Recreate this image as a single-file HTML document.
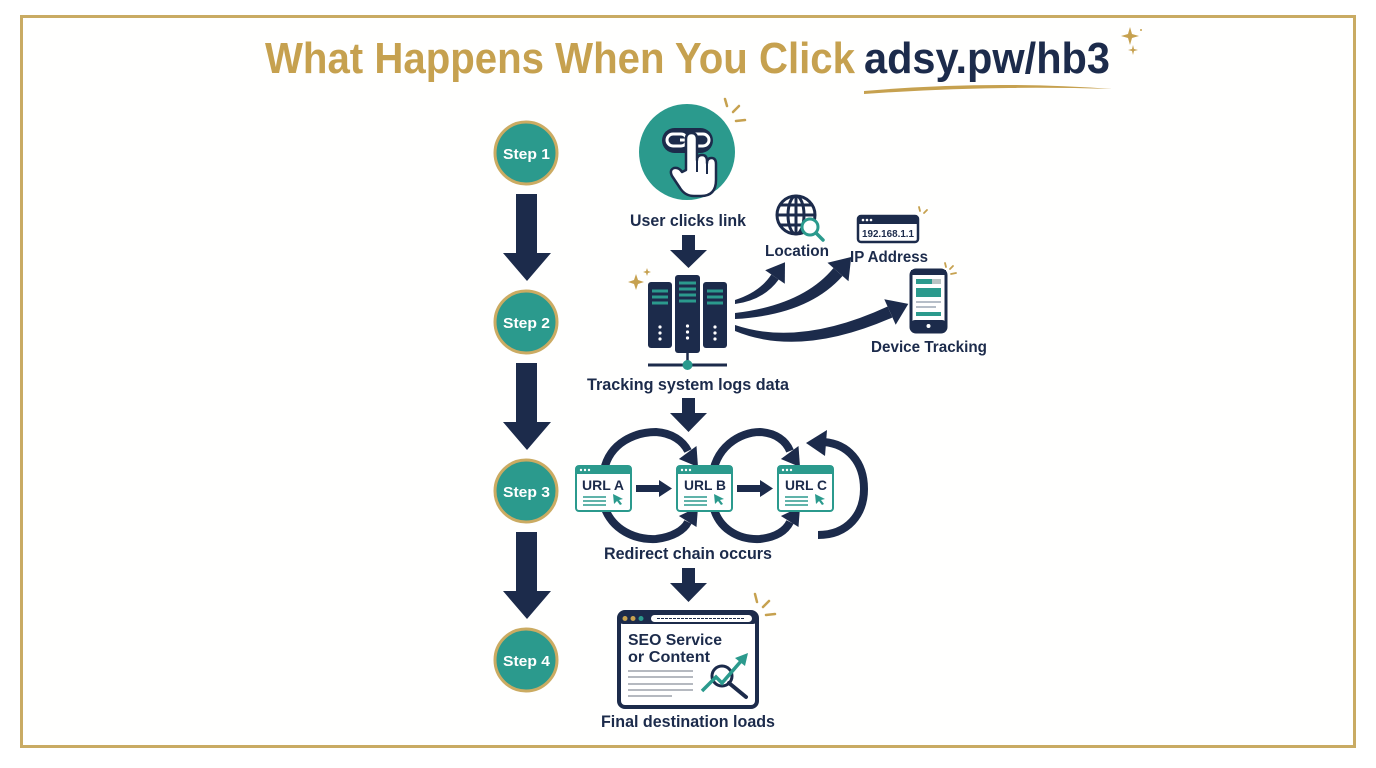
<!DOCTYPE html>
<html><head><meta charset="utf-8"><style>
html,body{margin:0;padding:0;background:#fff;}
svg{display:block;}
text{font-family:"Liberation Sans",sans-serif;font-weight:bold;}
</style></head><body>
<svg width="1376" height="768" viewBox="0 0 1376 768" xmlns="http://www.w3.org/2000/svg">
<rect x="0" y="0" width="1376" height="768" fill="#ffffff"/>
<rect x="21.5" y="16.5" width="1333" height="730" fill="#fffffe" stroke="#c9ab63" stroke-width="3"/>

<!-- Title -->
<text x="265" y="73" font-size="44" fill="#c6a14f" textLength="590" lengthAdjust="spacingAndGlyphs">What Happens When You Click</text>
<text x="864" y="73" font-size="44" fill="#1c2b4b" textLength="246" lengthAdjust="spacingAndGlyphs">adsy.pw/hb3</text>
<path d="M864,91 Q990,80 1112,89 Q990,85 864,94 Z" fill="#c6a14f"/>
<path d="M1130,27 L1132,34 L1139,36 L1132,38 L1130,45 L1128,38 L1121,36 L1128,34 Z" fill="#c6a14f"/>
<path d="M1133,45 L1134,49 L1138,50 L1134,51 L1133,55 L1132,51 L1128,50 L1132,49 Z" fill="#c6a14f"/>
<circle cx="1141" cy="30" r="1" fill="#c6a14f"/>

<!-- Step circles -->
<g>
<circle cx="526" cy="153" r="31" fill="#2b9a8d" stroke="#cbab62" stroke-width="3"/>
<text x="503" y="159" font-size="15" fill="#fff" textLength="47" lengthAdjust="spacingAndGlyphs">Step 1</text>
<circle cx="526" cy="322" r="31" fill="#2b9a8d" stroke="#cbab62" stroke-width="3"/>
<text x="503" y="328" font-size="15" fill="#fff" textLength="47" lengthAdjust="spacingAndGlyphs">Step 2</text>
<circle cx="526" cy="491" r="31" fill="#2b9a8d" stroke="#cbab62" stroke-width="3"/>
<text x="503" y="497" font-size="15" fill="#fff" textLength="47" lengthAdjust="spacingAndGlyphs">Step 3</text>
<circle cx="526" cy="660" r="31" fill="#2b9a8d" stroke="#cbab62" stroke-width="3"/>
<text x="503" y="666" font-size="15" fill="#fff" textLength="47" lengthAdjust="spacingAndGlyphs">Step 4</text>
</g>
<!-- step arrows -->
<g fill="#1c2b4b">
<path d="M516,194 H537 V253 H551 L527,281 L503,253 H516 Z"/>
<path d="M516,363 H537 V422 H551 L527,450 L503,422 H516 Z"/>
<path d="M516,532 H537 V591 H551 L527,619 L503,591 H516 Z"/>
</g>

<!-- User click icon -->
<circle cx="687" cy="152" r="48" fill="#2b9a8d"/>
<rect x="662" y="128" width="51" height="25" rx="12.5" fill="#1c2b4b"/>
<rect x="667" y="134" width="20" height="12" rx="6" fill="none" stroke="#fff" stroke-width="3"/>
<rect x="689" y="134" width="20" height="12" rx="6" fill="none" stroke="#fff" stroke-width="3"/>
<line x1="680" y1="140" x2="696" y2="140" stroke="#fff" stroke-width="3"/>
<path d="M686,170 L686,139 Q686,133 691.5,133 Q697,133 697,139 L697,160 Q697,155 702,155 Q707,155 707,161 L707,163 Q707,158 711.5,158 Q716,158 716,164 L716,180 Q716,196 701,196 L694,196 Q685,196 680,188 L672,176 Q669,170 674,168 Q679,167 682,172 Z" fill="#fff" stroke="#1c2b4b" stroke-width="2.5" stroke-linejoin="round"/>
<line x1="697" y1="160" x2="697" y2="172" stroke="#1c2b4b" stroke-width="2"/>
<line x1="707" y1="163" x2="707" y2="174" stroke="#1c2b4b" stroke-width="2"/>
<g stroke="#c6a14f" stroke-width="2.5" stroke-linecap="round">
<line x1="725" y1="99" x2="727" y2="106"/>
<line x1="733" y1="112" x2="739" y2="106"/>
<line x1="736" y1="121" x2="745" y2="120"/>
</g>
<text x="630" y="226" font-size="16.5" fill="#1c2b4b" textLength="116" lengthAdjust="spacingAndGlyphs">User clicks link</text>

<!-- small down arrows -->
<g fill="#1c2b4b">
<path d="M682,235 H695 V250 H707 L688.5,268 L670,250 H682 Z"/>
<path d="M682,398 H695 V413 H707 L688.5,432 L670,413 H682 Z"/>
<path d="M682,568 H695 V583 H707 L688.5,602 L670,583 H682 Z"/>
</g>

<!-- Server -->
<g>
<rect x="648" y="282" width="24" height="66" rx="3" fill="#1c2b4b"/>
<rect x="675" y="275" width="25" height="78" rx="3" fill="#1c2b4b"/>
<rect x="703" y="282" width="24" height="66" rx="3" fill="#1c2b4b"/>
<g stroke="#2b9a8d" stroke-width="3">
<line x1="652" y1="291" x2="668" y2="291"/><line x1="652" y1="297" x2="668" y2="297"/><line x1="652" y1="303" x2="668" y2="303"/>
<line x1="679" y1="283" x2="696" y2="283"/><line x1="679" y1="289" x2="696" y2="289"/><line x1="679" y1="295" x2="696" y2="295"/><line x1="679" y1="301" x2="696" y2="301"/>
<line x1="707" y1="291" x2="723" y2="291"/><line x1="707" y1="297" x2="723" y2="297"/><line x1="707" y1="303" x2="723" y2="303"/>
</g>
<g fill="#fff">
<circle cx="660" cy="327" r="1.6"/><circle cx="660" cy="333" r="1.6"/><circle cx="660" cy="339" r="1.6"/>
<circle cx="687.5" cy="326" r="1.6"/><circle cx="687.5" cy="332" r="1.6"/><circle cx="687.5" cy="338" r="1.6"/>
<circle cx="715" cy="327" r="1.6"/><circle cx="715" cy="333" r="1.6"/><circle cx="715" cy="339" r="1.6"/>
</g>
<line x1="687.5" y1="353" x2="687.5" y2="365" stroke="#1c2b4b" stroke-width="2.5"/>
<line x1="648" y1="365" x2="727" y2="365" stroke="#1c2b4b" stroke-width="3"/>
<circle cx="687.5" cy="365" r="5" fill="#2b9a8d"/>
<path d="M636,274 L638,280 L644,282 L638,284 L636,290 L634,284 L628,282 L634,280 Z" fill="#c6a14f"/>
<path d="M647,268 L648,271 L651,272 L648,273 L647,276 L646,273 L643,272 L646,271 Z" fill="#c6a14f"/>
</g>
<text x="587" y="390" font-size="16.5" fill="#1c2b4b" textLength="202" lengthAdjust="spacingAndGlyphs">Tracking system logs data</text>

<!-- Swoosh arrows -->
<g fill="#1c2b4b">
<path d="M735,300 Q760,292 771.3,274.5 L778.7,279.5 Q764,300 735,304 Z"/>
<polygon points="765.2,270.3 785,262.2 784.8,283.7"/>
<path d="M735,313 Q803,305 833.5,268 L842.5,276 Q808,315 735,319 Z"/>
<polygon points="827.5,262.8 851.2,257 848.5,281.2"/>
<path d="M735,325 Q800,347 887.6,306.5 L892.4,317.5 Q800,358 735,331 Z"/>
<polygon points="884.3,299.2 908.3,303.9 895.7,324.8"/>
</g>

<!-- Globe -->
<g fill="none" stroke="#1c2b4b" stroke-width="3">
<circle cx="796" cy="215" r="19"/>
<ellipse cx="796" cy="215" rx="8" ry="19"/>
<line x1="796" y1="196" x2="796" y2="234"/>
<line x1="777" y1="215" x2="815" y2="215"/>
<path d="M780,205 H812 M780,225 H812"/>
</g>
<circle cx="810" cy="227" r="8" fill="#fff" stroke="#2b9a8d" stroke-width="3"/>
<line x1="816" y1="233" x2="823" y2="240" stroke="#2b9a8d" stroke-width="3.5" stroke-linecap="round"/>
<text x="765" y="256" font-size="15.5" fill="#1c2b4b" textLength="64" lengthAdjust="spacingAndGlyphs">Location</text>

<!-- IP box -->
<rect x="858" y="216" width="60" height="26" rx="3" fill="#fff" stroke="#1c2b4b" stroke-width="2.5"/>
<rect x="858" y="216" width="60" height="8" fill="#1c2b4b"/>
<circle cx="863" cy="220" r="1.3" fill="#fff"/><circle cx="867" cy="220" r="1.3" fill="#fff"/><circle cx="871" cy="220" r="1.3" fill="#fff"/>
<text x="862" y="237" font-size="10" fill="#1c2b4b" textLength="52" lengthAdjust="spacingAndGlyphs">192.168.1.1</text>
<g stroke="#c6a14f" stroke-width="1.8" stroke-linecap="round">
<line x1="919" y1="207" x2="920" y2="211"/><line x1="924" y1="213" x2="927" y2="210"/>
<line x1="945" y1="263" x2="946" y2="267"/><line x1="950" y1="269" x2="953" y2="266"/><line x1="951" y1="274" x2="956" y2="273"/>
</g>
<text x="850" y="262" font-size="15.5" fill="#1c2b4b" textLength="78" lengthAdjust="spacingAndGlyphs">IP Address</text>

<!-- Phone -->
<rect x="911" y="270" width="35" height="62" rx="5" fill="#fff" stroke="#1c2b4b" stroke-width="3"/>
<rect x="911" y="270" width="35" height="5" fill="#1c2b4b"/>
<rect x="911" y="320" width="35" height="12" rx="4" fill="#1c2b4b"/>
<circle cx="928.5" cy="326" r="2" fill="#fff"/>
<rect x="916" y="279" width="25" height="5" fill="#2b9a8d"/>
<rect x="932" y="279" width="9" height="5" fill="#b9c4c4"/>
<rect x="916" y="288" width="25" height="9" fill="#2b9a8d"/>
<line x1="916" y1="302" x2="941" y2="302" stroke="#8a97a6" stroke-width="1.3"/>
<line x1="916" y1="307" x2="936" y2="307" stroke="#8a97a6" stroke-width="1.3"/>
<rect x="916" y="312" width="25" height="4" fill="#2b9a8d"/>
<text x="871" y="352" font-size="15.5" fill="#1c2b4b" textLength="116" lengthAdjust="spacingAndGlyphs">Device Tracking</text>

<!-- Redirect loops -->
<g fill="none" stroke="#1c2b4b" stroke-width="8" stroke-linecap="butt">
<path d="M604,470 C610,442 636,432 656,432 C672,433 683,441 688,451"/>
<path d="M604,506 C612,530 635,540 656,539 C673,537 684,530 688,522"/>
<path d="M712,480 C714,447 740,432 760,432 C776,433 786,441 790,451"/>
<path d="M712,500 C716,530 740,540 760,539 C777,537 786,530 790,522"/>
<path d="M818,535 C848,535 864,514 864,489 C864,462 848,444 824,442"/>
</g>
<g fill="#1c2b4b">
<polygon points="696.5,446 698,467 678.9,459"/>
<polygon points="696.5,527 698,507 678.9,516"/>
<polygon points="798.5,446 800,467 780.9,459"/>
<polygon points="798.5,527 800,507 780.9,516"/>
<polygon points="806,443 827,430 825,456"/>
</g>
<!-- URL boxes -->
<g>
<rect x="576" y="466" width="55" height="45" rx="3" fill="#fff" stroke="#2b9a8d" stroke-width="2"/>
<rect x="576" y="466" width="55" height="8" fill="#2b9a8d"/>
<circle cx="581" cy="470" r="1.2" fill="#fff"/><circle cx="585" cy="470" r="1.2" fill="#fff"/><circle cx="589" cy="470" r="1.2" fill="#fff"/>
<text x="582" y="490" font-size="14" fill="#1c2b4b" textLength="42" lengthAdjust="spacingAndGlyphs">URL A</text>
<g stroke="#2b9a8d" stroke-width="1.5"><line x1="583" y1="497" x2="606" y2="497"/><line x1="583" y1="501" x2="606" y2="501"/><line x1="583" y1="505" x2="606" y2="505"/></g>
<path d="M613,494 L623,499 L619,500 L622,504 L620,505 L617,501 L614,504 Z" fill="#2b9a8d"/>

<rect x="677" y="466" width="55" height="45" rx="3" fill="#fff" stroke="#2b9a8d" stroke-width="2"/>
<rect x="677" y="466" width="55" height="8" fill="#2b9a8d"/>
<circle cx="682" cy="470" r="1.2" fill="#fff"/><circle cx="686" cy="470" r="1.2" fill="#fff"/><circle cx="690" cy="470" r="1.2" fill="#fff"/>
<text x="684" y="490" font-size="14" fill="#1c2b4b" textLength="42" lengthAdjust="spacingAndGlyphs">URL B</text>
<g stroke="#2b9a8d" stroke-width="1.5"><line x1="684" y1="497" x2="707" y2="497"/><line x1="684" y1="501" x2="707" y2="501"/><line x1="684" y1="505" x2="707" y2="505"/></g>
<path d="M714,494 L724,499 L720,500 L723,504 L721,505 L718,501 L715,504 Z" fill="#2b9a8d"/>

<rect x="778" y="466" width="55" height="45" rx="3" fill="#fff" stroke="#2b9a8d" stroke-width="2"/>
<rect x="778" y="466" width="55" height="8" fill="#2b9a8d"/>
<circle cx="783" cy="470" r="1.2" fill="#fff"/><circle cx="787" cy="470" r="1.2" fill="#fff"/><circle cx="791" cy="470" r="1.2" fill="#fff"/>
<text x="785" y="490" font-size="14" fill="#1c2b4b" textLength="42" lengthAdjust="spacingAndGlyphs">URL C</text>
<g stroke="#2b9a8d" stroke-width="1.5"><line x1="785" y1="497" x2="808" y2="497"/><line x1="785" y1="501" x2="808" y2="501"/><line x1="785" y1="505" x2="808" y2="505"/></g>
<path d="M815,494 L825,499 L821,500 L824,504 L822,505 L819,501 L816,504 Z" fill="#2b9a8d"/>
</g>
<g fill="#1c2b4b">
<path d="M636,485 H659 V480 L672,488.5 L659,497 V492 H636 Z"/>
<path d="M737,485 H760 V480 L773,488.5 L760,497 V492 H737 Z"/>
</g>
<text x="604" y="559" font-size="16.5" fill="#1c2b4b" textLength="168" lengthAdjust="spacingAndGlyphs">Redirect chain occurs</text>

<!-- Final destination browser -->
<rect x="619" y="612" width="138" height="95" rx="6" fill="#fff" stroke="#1c2b4b" stroke-width="4"/>
<rect x="619" y="612" width="138" height="12" rx="4" fill="#1c2b4b"/>
<circle cx="625" cy="618.5" r="2.5" fill="#c6a14f"/><circle cx="633" cy="618.5" r="2.5" fill="#c6a14f"/><circle cx="641" cy="618.5" r="2.5" fill="#2b9a8d"/>
<rect x="651" y="615" width="101" height="7" rx="3.5" fill="#fff"/>
<line x1="657" y1="618.5" x2="745" y2="618.5" stroke="#1c2b4b" stroke-width="1" stroke-dasharray="3,1"/>
<text x="628" y="645" font-size="16" fill="#1c2b4b" textLength="94" lengthAdjust="spacingAndGlyphs">SEO Service</text>
<text x="628" y="662" font-size="16" fill="#1c2b4b" textLength="82" lengthAdjust="spacingAndGlyphs">or Content</text>
<g stroke="#b5b9c0" stroke-width="2">
<line x1="628" y1="671" x2="693" y2="671"/><line x1="628" y1="677" x2="693" y2="677"/><line x1="628" y1="684" x2="693" y2="684"/><line x1="628" y1="690" x2="693" y2="690"/><line x1="628" y1="696" x2="672" y2="696"/>
</g>
<circle cx="722" cy="676" r="10" fill="#fff" stroke="#1c2b4b" stroke-width="3"/>
<line x1="729" y1="683" x2="746" y2="697" stroke="#1c2b4b" stroke-width="4" stroke-linecap="round"/>
<path d="M702,691 L716,677 L722,683 L742,660" fill="none" stroke="#2b9a8d" stroke-width="3.5"/>
<polygon points="748,653 745,666 735,658" fill="#2b9a8d"/>
<g stroke="#c6a14f" stroke-width="2.5" stroke-linecap="round">
<line x1="755" y1="594" x2="757" y2="602"/><line x1="763" y1="607" x2="769" y2="601"/><line x1="766" y1="615" x2="775" y2="614"/>
</g>
<text x="601" y="727" font-size="16.5" fill="#1c2b4b" textLength="174" lengthAdjust="spacingAndGlyphs">Final destination loads</text>
</svg>
</body></html>
